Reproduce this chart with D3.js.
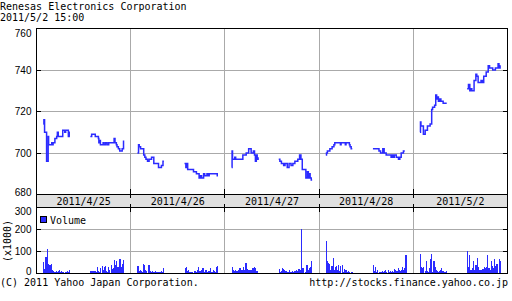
<!DOCTYPE html>
<html lang="en">
<head>
<meta charset="UTF-8">
<title>Renesas Electronics Corporation</title>
<script src="https://d3js.org/d3.v7.min.js"></script>
<style>
  body { margin: 0; background: #fff; }
  svg { display: block; }
  .mono { font-family: "DejaVu Sans Mono", monospace; font-size: 10px; fill: #000; }
  .num text { font-family: "Liberation Sans", Arial, sans-serif; font-size: 10px; fill: #000; }
</style>
</head>
<body>
<div id="chart"></div>
<script>
const days = ["2011/4/25", "2011/4/26", "2011/4/27", "2011/4/28", "2011/5/2"];
const priceTicks = [680, 700, 720, 740, 760];
const volTicks = [0, 100, 200, 300];

// price, [time, yen], morning and afternoon session of each day
const p0425am = [["9:00",714],["9:03",716],["9:06",710],["9:15",696],["9:22",708],["9:24",704],["9:38",705],["9:41",704],["9:44",705],["9:52",707],["10:00",708],["10:03",710],["10:07",708],["10:27",711],["10:36",710],["10:40",711],["10:52",708],["10:54",710],["10:56",708],["10:59",708]];
const p0425pm = [["12:30",708],["12:36",709],["12:52",708],["13:06",707],["13:08",705],["13:11",706],["13:15",704],["13:27",705],["13:31",704],["13:38",705],["13:45",704],["13:52",705],["14:05",705],["14:16",707],["14:20",705],["14:26",704],["14:29",703],["14:35",702],["14:41",701],["14:52",702],["14:58",706]];
const p0426am = [["9:00",700],["9:05",704],["9:08",703],["9:14",702],["9:28",699],["9:33",698],["9:38",697],["9:45",696],["9:52",697],["10:03",698],["10:13",695],["10:34",693],["10:47",694],["10:54",696],["10:58",696]];
const p0426pm = [["12:30",695],["12:36",693],["12:40",695],["12:44",692],["13:10",691],["13:23",690],["13:35",688],["13:41",689],["13:46",688],["13:55",690],["14:00",689],["14:10",690],["14:14",689],["14:20",690],["14:56",689],["14:59",689]];
const p0427am = [["9:00",693],["9:02",701],["9:04",697],["9:14",698],["9:18",697],["9:50",699],["10:05",700],["10:16",702],["10:27",700],["10:37",701],["10:42",699],["10:46",696],["10:50",699],["10:54",697],["10:58",698]];
const p0427pm = [["12:30",697],["12:35",696],["12:42",695],["12:52",694],["12:58",695],["13:08",693],["13:16",695],["13:25",694],["13:33",695],["13:42",696],["13:55",697],["14:03",699],["14:09",697],["14:15",692],["14:31",688],["14:38",691],["14:42",688],["14:46",690],["14:50",688],["14:55",687],["14:59",687]];
const p0428am = [["9:00",699],["9:03",700],["9:07",701],["9:18",702],["9:28",703],["9:36",704],["9:40",705],["10:05",704],["10:08",705],["10:27",704],["10:30",705],["10:45",704],["10:48",703],["10:53",702],["10:58",702]];
const p0428pm = [["12:30",702],["12:57",701],["13:04",700],["13:14",702],["13:20",700],["13:29",699],["13:51",698],["13:56",699],["14:00",698],["14:05",699],["14:14",698],["14:24",697],["14:30",698],["14:36",700],["14:46",701],["14:52",701]];
const p0502am = [["9:00",710],["9:02",715],["9:04",713],["9:15",709],["9:23",711],["9:33",713],["9:45",714],["9:52",721],["9:56",722],["10:05",723],["10:10",728],["10:14",726],["10:18",727],["10:22",725],["10:28",726],["10:33",725],["10:43",724],["10:59",724]];
const p0502pm = [["12:30",731],["12:36",733],["12:42",730],["12:47",731],["12:51",730],["13:01",735],["13:09",738],["13:13",737],["13:19",734],["13:32",735],["13:38",734],["13:44",737],["13:55",739],["14:04",742],["14:10",741],["14:24",740],["14:36",741],["14:48",743],["14:52",741],["14:57",742],["14:59",742]];

// volume (x1000 shares), 5-minute bars from 9:00 and from 12:30
const v0425am = [51,20,74,112,43,35,38,43,15,11,5,8,4,10,12,6,8,4,6,3,4,7,5,15];
const v0425pm = [11,9,8,8,10,6,26,8,6,23,31,12,26,34,10,5,26,12,38,20,22,62,38,54,26,30,66,28,40,60];
const v0426am = [34,8,15,10,6,43,35,12,8,38,38,10,6,8,4,6,8,5,3,4,6,8,4,23];
const v0426pm = [23,26,8,15,5,4,5,6,8,10,5,15,28,8,10,15,23,5,12,15,6,8,10,23,5,12,10,6,26,34];
const v0427am = [29,14,10,14,8,10,14,22,14,12,29,14,45,48,20,14,12,14,25,22,29,25,10,8];
const v0427pm = [19,5,8,25,19,15,8,5,5,12,5,6,8,5,8,12,10,19,19,15,205,22,25,5,37,37,15,25,29,56];
const v0428am = [146,56,45,40,12,33,71,15,29,34,12,37,10,34,37,6,20,15,12,6,10,5,4,3];
const v0428pm = [37,8,29,6,14,5,4,6,10,6,8,12,6,12,4,8,6,8,5,19,12,8,22,12,10,12,29,15,22,84];
const v0502am = [87,29,22,28,10,56,10,6,25,65,87,5,56,29,12,8,5,8,12,25,8,5,4,8];
const v0502pm = [102,29,84,15,25,56,15,37,37,68,29,15,12,18,20,29,25,29,81,22,15,56,34,25,65,34,40,40,65,56];

const priceSessions = [[p0425am, p0425pm], [p0426am, p0426pm], [p0427am, p0427pm], [p0428am, p0428pm], [p0502am, p0502pm]];
const volSessions = [[v0425am, v0425pm], [v0426am, v0426pm], [v0427am, v0427pm], [v0428am, v0428pm], [v0502am, v0502pm]];

const W = 512, H = 301;
const blue = "#2b2bff", grid = "#aaaaaa";
const dayLen = 420;            // each day column runs 8:30 - 15:30
const mins = s => { const [h, m] = s.split(":").map(Number); return h * 60 + m - 510; };
const snap = v => Math.round(v - 0.5) + 0.5;

const x = d3.scaleLinear().domain([0, days.length * dayLen]).range([36.5, 507.5]);
const yP = d3.scaleLinear().domain([680, 760]).range([194.5, 28.5]);
const yV = d3.scaleLinear().domain([0, 300]).range([273, 208]);

const svg = d3.select("#chart").append("svg").attr("width", W).attr("height", H);

// titles
svg.append("text").attr("class", "mono").attr("x", 0).attr("y", 10).text("Renesas Electronics Corporation");
svg.append("text").attr("class", "mono").attr("x", 0).attr("y", 21).text("2011/5/2 15:00");

// grid lines
const gridG = svg.append("g").attr("stroke", grid).attr("stroke-width", 1);
[700, 720, 740].forEach(v => gridG.append("line")
  .attr("x1", 36.5).attr("x2", 507.5).attr("y1", snap(yP(v))).attr("y2", snap(yP(v))));
[100, 200].forEach(v => gridG.append("line")
  .attr("x1", 36.5).attr("x2", 507.5).attr("y1", snap(yV(v))).attr("y2", snap(yV(v))));
d3.range(1, days.length).forEach(d => {
  const xx = snap(x(d * dayLen));
  gridG.append("line").attr("x1", xx).attr("x2", xx).attr("y1", 28.5).attr("y2", 194.5);
  gridG.append("line").attr("x1", xx).attr("x2", xx).attr("y1", 207.5).attr("y2", 273.5);
});

// volume bars
const barG = svg.append("g").attr("fill", blue).attr("shape-rendering", "crispEdges");
volSessions.forEach((sess, d) => {
  sess.forEach((vals, k) => {
    const start = d * dayLen + (k === 0 ? mins("9:00") : mins("12:30"));
    vals.forEach((v, i) => {
      const t = start + i * 5;
      barG.append("rect")
        .attr("x", x(t)).attr("width", Math.max(1, x(t + 5) - x(t) - 0.05))
        .attr("y", yV(v)).attr("height", yV(0) - yV(v));
    });
  });
});

// price line
const line = d3.line()
  .x(d => x(d.t)).y(d => yP(d.p))
  .curve(d3.curveStepAfter);
priceSessions.forEach((sess, d) => {
  sess.forEach(pts => {
    const data = pts.map(([tm, p]) => ({ t: d * dayLen + mins(tm), p }));
    svg.append("path").datum(data)
      .attr("fill", "none").attr("stroke", blue).attr("stroke-width", 1.5)
      .attr("d", line);
  });
});

// frames
svg.append("rect").attr("x", 36.5).attr("y", 28.5).attr("width", 471).attr("height", 166)
  .attr("fill", "none").attr("stroke", "#000");
svg.append("rect").attr("x", 36.5).attr("y", 194.5).attr("width", 471).attr("height", 13)
  .attr("fill", "#e0e0e0").attr("stroke", "#000");
svg.append("rect").attr("x", 36.5).attr("y", 207.5).attr("width", 471).attr("height", 66)
  .attr("fill", "none").attr("stroke", "#000");

// black ticks
const tickG = svg.append("g").attr("stroke", "#000");
[700, 720, 740].forEach(v => {
  const yy = snap(yP(v));
  tickG.append("line").attr("x1", 36.5).attr("x2", 41).attr("y1", yy).attr("y2", yy);
  tickG.append("line").attr("x1", 503).attr("x2", 507.5).attr("y1", yy).attr("y2", yy);
});
[100, 200].forEach(v => {
  const yy = snap(yV(v));
  tickG.append("line").attr("x1", 36.5).attr("x2", 41).attr("y1", yy).attr("y2", yy);
  tickG.append("line").attr("x1", 503).attr("x2", 507.5).attr("y1", yy).attr("y2", yy);
});
d3.range(1, days.length).forEach(d => {
  const xx = snap(x(d * dayLen));
  tickG.append("line").attr("x1", xx).attr("x2", xx).attr("y1", 189).attr("y2", 198);
  tickG.append("line").attr("x1", xx).attr("x2", xx).attr("y1", 204).attr("y2", 212);
});

// day labels
svg.selectAll("text.day").data(days).enter().append("text")
  .attr("class", "mono day")
  .attr("x", (d, i) => x(i * dayLen + dayLen / 2))
  .attr("y", 204.5)
  .attr("text-anchor", "middle")
  .text(d => d);

// price axis labels
const pAxis = svg.append("g").attr("class", "num")
  .attr("transform", "translate(36.5,0)")
  .call(d3.axisLeft(yP).tickValues(priceTicks).tickSize(0).tickPadding(5));
pAxis.select(".domain").remove();
pAxis.selectAll(".tick text").attr("dy", d => d === 760 ? "0.77em" : d === 680 ? "0.12em" : "0.32em");

// volume axis labels
const vAxis = svg.append("g").attr("class", "num")
  .attr("transform", "translate(36.5,0)")
  .call(d3.axisLeft(yV).tickValues(volTicks).tickSize(0).tickPadding(5));
vAxis.select(".domain").remove();
vAxis.selectAll(".tick text").attr("dy", d => d === 300 ? "0.68em" : d === 0 ? "0.12em" : "0.32em");

svg.append("text").attr("class", "mono")
  .attr("transform", "translate(11,241) rotate(-90)")
  .attr("text-anchor", "middle")
  .text("(x1000)");

// legend
svg.append("rect").attr("x", 40.5).attr("y", 216.5).attr("width", 6).attr("height", 6)
  .attr("fill", blue).attr("stroke", "#000");
svg.append("text").attr("class", "mono").attr("x", 50).attr("y", 224).text("Volume");

// footer
svg.append("text").attr("class", "mono").attr("x", 0).attr("y", 285.5).text("(C) 2011 Yahoo Japan Corporation.");
svg.append("text").attr("class", "mono").attr("x", 508).attr("y", 285.5).attr("text-anchor", "end")
  .text("http://stocks.finance.yahoo.co.jp");
</script>
</body>
</html>
